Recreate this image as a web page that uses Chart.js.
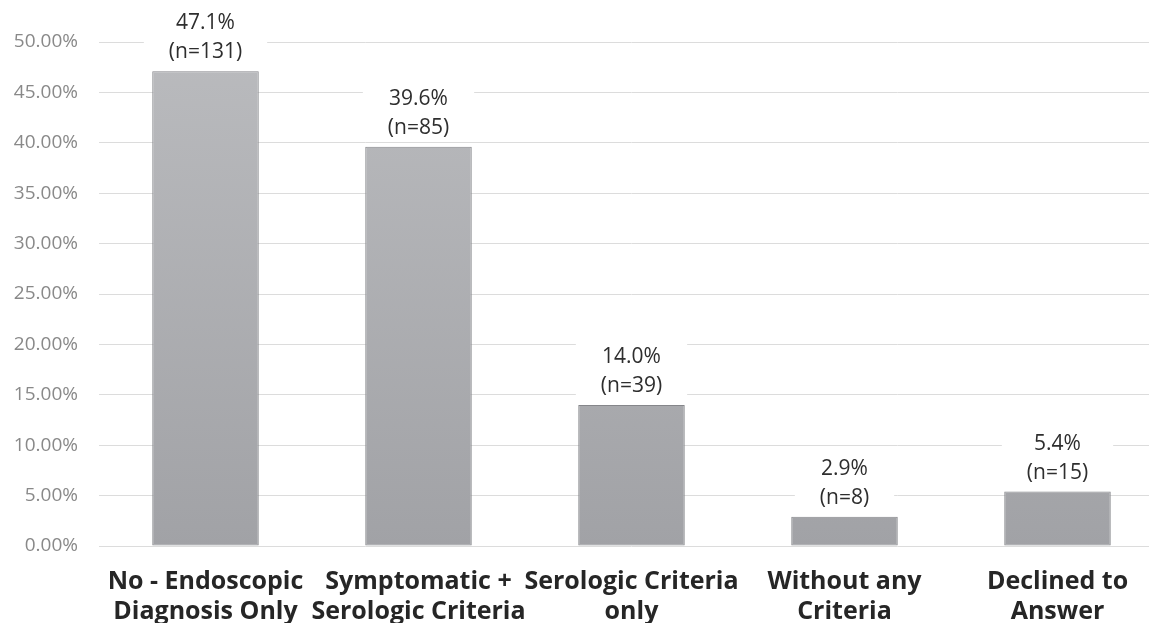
<!DOCTYPE html>
<html>
<head>
<meta charset="utf-8">
<script src="https://cdn.jsdelivr.net/npm/chart.js@4/dist/chart.umd.min.js"></script>
<style>
  html, body { margin: 0; padding: 0; background: #fff; overflow: hidden; }
  #wrap { position: relative; width: 1164px; height: 623px; }
</style>
</head>
<body>
<div id="wrap"><canvas id="c"></canvas></div>
<script>
const categories = [
  ["No - Endoscopic", "Diagnosis Only"],
  ["Symptomatic +", "Serologic Criteria"],
  ["Serologic Criteria", "only"],
  ["Without any", "Criteria"],
  ["Declined to", "Answer"]
];
const percentValues = [47.1, 39.6, 14.0, 2.9, 5.4];
const counts = [131, 85, 39, 8, 15];
const yTickMax = 50;
const yTickStep = 5;

const labelFont = '21px "Open Sans"';

const barLabels = {
  id: 'barLabels',
  afterDatasetsDraw(chart) {
    const ctx = chart.ctx;
    const meta = chart.getDatasetMeta(0);
    ctx.save();
    ctx.font = labelFont;
    ctx.textAlign = 'center';
    ctx.textBaseline = 'middle';
    meta.data.forEach((bar, i) => {
      const lines = [percentValues[i].toFixed(1) + '%', '(n=' + counts[i] + ')'];
      const lastY = bar.y - 19;
      const firstY = lastY - 29;
      const w = Math.max(...lines.map(l => ctx.measureText(l).width)) + 50;
      ctx.fillStyle = '#ffffff';
      ctx.fillRect(bar.x - w / 2, firstY - 16, w, (lastY + 13) - (firstY - 16));
      ctx.fillStyle = '#2e2e2e';
      ctx.fillText(lines[0], bar.x, firstY);
      ctx.fillText(lines[1], bar.x, lastY);
    });
    ctx.restore();
  }
};

new Chart(document.getElementById('c'), {
  type: 'bar',
  data: {
    labels: categories,
    datasets: [{
      data: percentValues,
      backgroundColor(context) {
        const area = context.chart.chartArea;
        if (!area) return '#aeafb2';
        const g = context.chart.ctx.createLinearGradient(0, area.top, 0, area.bottom);
        g.addColorStop(0, '#babbbe');
        g.addColorStop(1, '#a1a2a6');
        return g;
      },
      borderColor: '#85868a',
      borderWidth: 1,
      borderSkipped: false,
      barPercentage: 0.5,
      categoryPercentage: 1.0
    }]
  },
  options: {
    responsive: true,
    maintainAspectRatio: false,
    animation: false,
    layout: { padding: { top: 42, left: 13, right: 0, bottom: 0 } },
    plugins: { legend: { display: false }, tooltip: { enabled: false } },
    scales: {
      x: {
        grid: { display: false, drawTicks: false },
        border: { display: false },
        afterFit: s => { s.height = 77; s.paddingLeft = 0; s.paddingRight = 0; },
        ticks: {
          color: '#262626',
          font: { family: '"Open Sans"', size: 25, weight: 'bold', lineHeight: 1.2 },
          padding: 21,
          maxRotation: 0,
          autoSkip: false
        }
      },
      y: {
        min: 0,
        max: yTickMax,
        grid: { color: '#dcdcdc', lineWidth: 1, drawTicks: false },
        border: { display: false },
        afterFit: s => { s.width = 86; },
        ticks: {
          stepSize: yTickStep,
          color: '#898989',
          font: { family: '"Open Sans"', size: 19 },
          padding: 21,
          callback: v => v.toFixed(2) + '%'
        }
      }
    }
  },
  plugins: [barLabels]
});
</script>
</body>
</html>
